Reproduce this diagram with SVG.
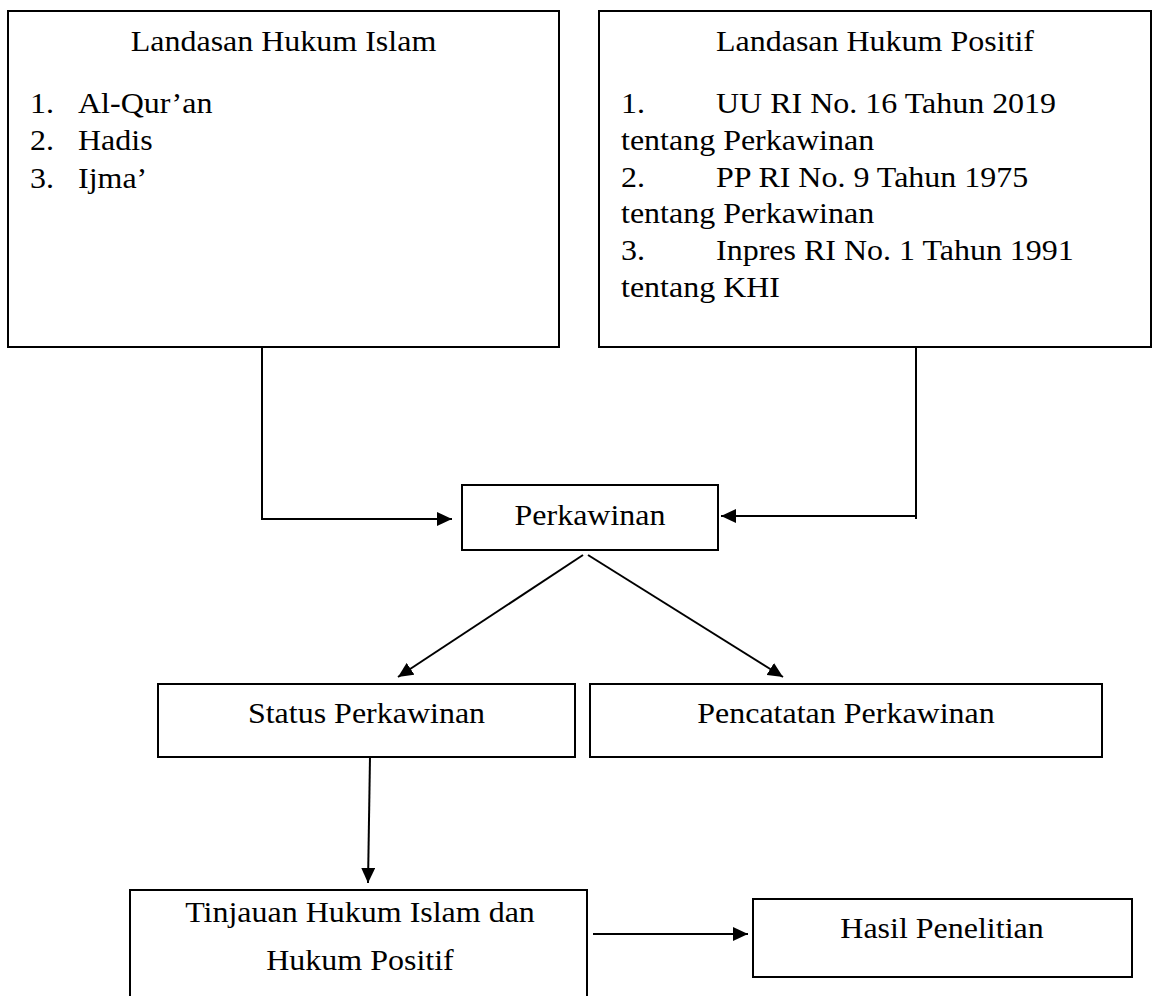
<svg xmlns="http://www.w3.org/2000/svg" width="1156" height="996" viewBox="0 0 1156 996">
<style>
  .box { fill: #ffffff; stroke: #000000; stroke-width: 2; }
  .t { font-family: "Liberation Serif", "Times New Roman", serif; font-size: 30px; fill: #000000; }
  .m { text-anchor: middle; }
  .conn { fill: none; stroke: #000000; stroke-width: 2; }
</style>
<defs>
  <marker id="ah" markerUnits="userSpaceOnUse" markerWidth="16" markerHeight="14" refX="15" refY="7" orient="auto">
    <path d="M0,0 L15,7 L0,14 Z" fill="#000000"/>
  </marker>
</defs>
<rect width="1156" height="996" fill="#ffffff"/>

<g id="connectors">
  <polyline class="conn" points="262,347 262,519 452,519" marker-end="url(#ah)"/>
  <line class="conn" x1="916" y1="347" x2="916" y2="519"/>
  <line class="conn" x1="916" y1="516" x2="721" y2="516" marker-end="url(#ah)"/>
  <line class="conn" x1="583" y1="555" x2="398" y2="677" marker-end="url(#ah)"/>
  <line class="conn" x1="588" y1="555" x2="783" y2="677" marker-end="url(#ah)"/>
  <line class="conn" x1="370" y1="757" x2="368" y2="883" marker-end="url(#ah)"/>
  <line class="conn" x1="593" y1="934" x2="748" y2="934" stroke-width="2.5" marker-end="url(#ah)"/>
</g>

<g id="node-islam">
  <rect class="box" x="8" y="11" width="551" height="336"/>
  <text class="t m" transform="translate(283.5 51) scale(1.0667 1)">Landasan Hukum Islam</text>
  <text class="t" transform="translate(30 113) scale(1.0667 1)">1.</text>
  <text class="t" transform="translate(78 113) scale(1.0667 1)">Al-Qur’an</text>
  <text class="t" transform="translate(30 150) scale(1.0667 1)">2.</text>
  <text class="t" transform="translate(78 150) scale(1.0667 1)">Hadis</text>
  <text class="t" transform="translate(30 188) scale(1.0667 1)">3.</text>
  <text class="t" transform="translate(78 188) scale(1.0667 1)">Ijma’</text>
</g>

<g id="node-positif">
  <rect class="box" x="599" y="11" width="552" height="336"/>
  <text class="t m" transform="translate(875 51) scale(1.0667 1)">Landasan Hukum Positif</text>
  <text class="t" transform="translate(621 113) scale(1.0667 1)">1.</text>
  <text class="t" transform="translate(716 113) scale(1.0667 1)">UU RI No. 16 Tahun 2019</text>
  <text class="t" transform="translate(621 150) scale(1.0667 1)">tentang Perkawinan</text>
  <text class="t" transform="translate(621 187) scale(1.0667 1)">2.</text>
  <text class="t" transform="translate(716 187) scale(1.0667 1)">PP RI No. 9 Tahun 1975</text>
  <text class="t" transform="translate(621 223) scale(1.0667 1)">tentang Perkawinan</text>
  <text class="t" transform="translate(621 260) scale(1.0667 1)">3.</text>
  <text class="t" transform="translate(716 260) scale(1.0667 1)">Inpres RI No. 1 Tahun 1991</text>
  <text class="t" transform="translate(621 297) scale(1.0667 1)">tentang KHI</text>
</g>

<g id="node-perkawinan">
  <rect class="box" x="462" y="485" width="256" height="65"/>
  <text class="t m" transform="translate(590 525) scale(1.0667 1)">Perkawinan</text>
</g>

<g id="node-status">
  <rect class="box" x="158" y="684" width="417" height="73"/>
  <text class="t m" transform="translate(366.5 723) scale(1.0667 1)">Status Perkawinan</text>
</g>

<g id="node-pencatatan">
  <rect class="box" x="590" y="684" width="512" height="73"/>
  <text class="t m" transform="translate(846 723) scale(1.0667 1)">Pencatatan Perkawinan</text>
</g>

<g id="node-tinjauan">
  <rect class="box" x="130" y="890" width="457" height="120"/>
  <text class="t m" transform="translate(360 922) scale(1.0667 1)">Tinjauan Hukum Islam dan</text>
  <text class="t m" transform="translate(360 970) scale(1.0667 1)">Hukum Positif</text>
</g>

<g id="node-hasil">
  <rect class="box" x="753" y="899" width="379" height="78"/>
  <text class="t m" transform="translate(942 938) scale(1.0667 1)">Hasil Penelitian</text>
</g>
</svg>
